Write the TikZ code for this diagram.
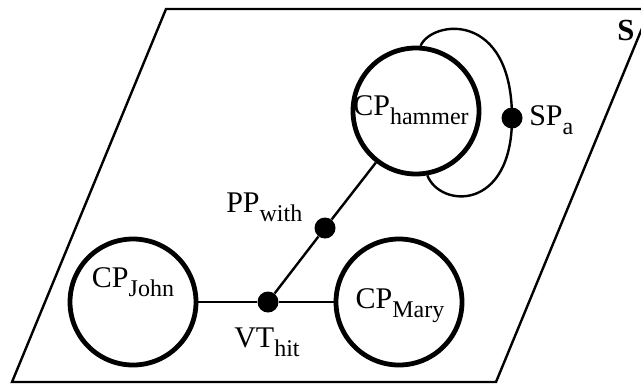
\documentclass[tikz,border=0pt]{standalone}
\usepackage{fontspec}
\setmainfont{Liberation Serif}
\newcommand{\sublbl}[2]{#1\raisebox{-7pt}{\fontsize{18}{18}\selectfont #2}}
\begin{document}
\begin{tikzpicture}[x=0.75pt,y=-0.75pt,
  font=\fontsize{22.5}{24}\selectfont,
  bigcirc/.style={circle, draw, line width=3.6pt, minimum size=94.5pt, inner sep=0pt},
  dot/.style={circle, fill, minimum size=15.75pt, inner sep=0pt},
  link/.style={line width=1.8pt},
  frame/.style={line width=1.8pt, line join=miter},
  lbl/.style={inner sep=0pt}]
\useasboundingbox (0,0) rectangle (641,383);
\begin{scope}
  \clip (0,0) rectangle (641,383);
  \draw[frame] (12,382) -- (166,9) -- (650,9) -- (496,382) -- cycle;
\end{scope}
\node[bigcirc] (john) at (133,302) {};
\node[bigcirc] (mary) at (399,302) {};
\node[bigcirc] (hammer) at (416,111) {};
\node[dot] (vt) at (268,302) {};
\node[dot] (pp) at (325,228) {};
\node[dot] (sp) at (512,118) {};
\draw[link] (john) -- (vt) -- (mary);
\draw[link] (vt) -- (pp) -- (hammer);
\draw[link] (hammer.86) .. controls (432,20) and (512,10) .. (sp.center)
  .. controls (512,212) and (440,208) .. (hammer.-80);
\node[lbl, anchor=base] (johnlbl) at (133,287) {\sublbl{CP}{John}};
\node[lbl, anchor=base] (marylbl) at (400,308) {\sublbl{CP}{Mary}};
\node[lbl, anchor=base] (hammerlbl) at (411,115) {\sublbl{CP}{hammer}};
\node[lbl, anchor=base west] (splbl) at (529,125) {\sublbl{SP}{a}};
\node[lbl, anchor=base west] (pplbl) at (226,212) {\sublbl{PP}{with}};
\node[lbl, anchor=base west] (vtlbl) at (234,347) {\sublbl{VT}{hit}};
\node[lbl, anchor=base, font=\fontsize{23}{24}\selectfont\bfseries] (slbl) at (626,40) {S};
\end{tikzpicture}
\end{document}
